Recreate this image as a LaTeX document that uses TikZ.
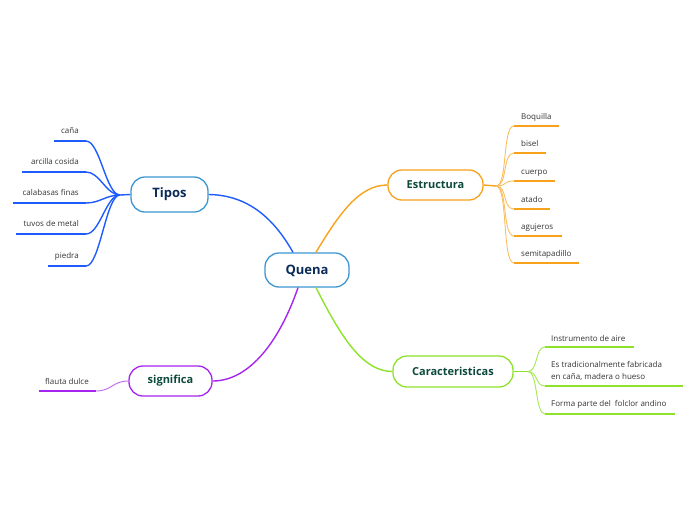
\documentclass[tikz,border=0pt]{standalone}
\usepackage{fontspec}
\setmainfont{Open Sans}

\definecolor{azul}{HTML}{1F5CFF}
\definecolor{celeste}{HTML}{3C96D2}
\definecolor{naranja}{HTML}{F8A21C}
\definecolor{verde}{HTML}{8DE22B}
\definecolor{morado}{HTML}{A524F0}
\definecolor{marino}{HTML}{0B2B58}
\definecolor{pino}{HTML}{0D4A3B}

\begin{document}
\begin{tikzpicture}[x=1pt,y=-1pt,
        tema/.style={draw, fill=white, line width=1.3pt, rounded corners=14pt,
            inner sep=0pt, font=\bfseries},
        hoja/.style={font=\fontsize{8}{12}\selectfont, text=black!80, inner sep=0pt},
        rama/.style={line width=1.4pt},
        raya/.style={line width=2pt}]
        \useasboundingbox (0,0) rectangle (696,520);

        % Idea central.
        \node[tema, draw=celeste, text=marino, font=\bfseries\fontsize{13}{15}\selectfont,
            minimum width=84pt, minimum height=34pt, text depth=1pt] (quena) at (307,270) {Quena};

        % Temas principales.
        \node[tema, draw=celeste, text=marino, font=\bfseries\fontsize{13}{15}\selectfont,
            minimum width=77pt, minimum height=35pt] (tipos) at (169.5,194.5) {Tipos};
        \node[tema, draw=naranja, text=pino, font=\bfseries\fontsize{11}{13}\selectfont,
            minimum width=95pt, minimum height=30pt] (estructura) at (435.5,185) {Estructura};
        \node[tema, draw=verde, text=pino, font=\bfseries\fontsize{11}{13}\selectfont,
            minimum width=120pt, minimum height=31pt] (caract) at (453,371.5) {Caracteristicas};
        \node[tema, draw=morado, text=pino, font=\bfseries\fontsize{11}{13}\selectfont,
            minimum width=83pt, minimum height=30pt] (significa) at (170.5,381) {significa};

        % Ramas desde la idea central.
        \draw[rama, azul] ([xshift=-14pt]quena.north)
            .. controls (272,215) and (245,195) .. (tipos.east);
        \draw[rama, naranja] ([xshift=9pt]quena.north)
            .. controls (340,212) and (360,185) .. (estructura.west);
        \draw[rama, verde] ([xshift=9pt]quena.south)
            .. controls (340,335) and (362,371.5) .. (caract.west);
        \draw[rama, morado] ([xshift=-9pt]quena.south)
            .. controls (280,340) and (250,381) .. (significa.east);

        % Tipos.
        \coordinate (tb) at (120,195);
        \draw[rama, azul] (tipos.west) -- (tb);
        \foreach \y/\xs/\txt [count=\i] in {141/54/caña, 172/22/arcilla cosida,
                203/13/calabasas finas, 234/16/tuvos de metal, 266/48/piedra} {
            \coordinate (t\i a) at (86,\y);
            \coordinate (t\i b) at (\xs,\y);
            \draw[rama, azul] (tb) .. controls +(-14,0) and +(14,0) .. (t\i a);
            \draw[raya, azul] (t\i a) -- (t\i b);
            \node[hoja, anchor=base east] (tt\i) at ([shift={(-7,-7.5)}]t\i a) {\txt};
        }

        % Estructura.
        \coordinate (eb) at (496,186);
        \draw[rama, naranja] (estructura.east) -- (eb);
        \foreach \y/\xe/\txt [count=\i] in {126/559/Boquilla, 153/546/bisel,
                181/555/cuerpo, 209/550/atado, 236/562/agujeros, 263/579/semitapadillo} {
            \coordinate (e\i a) at (514,\y);
            \coordinate (e\i b) at (\xe,\y);
            \draw[line width=0.9pt, naranja!70] (eb) .. controls +(12,0) and +(-12,0) .. (e\i a);
            \draw[raya, naranja] (e\i a) -- (e\i b);
            \node[hoja, anchor=base west] (et\i) at ([shift={(7,-7)}]e\i a) {\txt};
        }

        % Caracteristicas.
        \coordinate (cb) at (528,371.5);
        \draw[rama, verde] (caract.east) -- (cb);
        \foreach \y/\xe/\txt [count=\i] in {347/634/Instrumento de aire,
                386/683/{Es tradicionalmente fabricada\\en caña, madera o hueso},
                414/675/Forma parte del\ \ folclor andino} {
            \coordinate (c\i a) at (545,\y);
            \coordinate (c\i b) at (\xe,\y);
            \draw[line width=0.9pt, verde!80] (cb) .. controls +(10,0) and +(-10,0) .. (c\i a);
            \draw[raya, verde] (c\i a) -- (c\i b);
            \node[hoja, anchor=south west, align=left] (ct\i) at ([shift={(6,-5)}]c\i a) {\txt};
        }

        % Significa.
        \coordinate (s1a) at (96,391);
        \coordinate (s1b) at (39,391);
        \draw[line width=0.9pt, morado!70] (significa.west)
            .. controls +(-16,0) and +(16,0) .. (s1a);
        \draw[raya, morado] (s1a) -- (s1b);
        \node[hoja, anchor=base west] (st1) at ([shift={(6,-7)}]s1b) {flauta dulce};
    \end{tikzpicture}
\end{document}
